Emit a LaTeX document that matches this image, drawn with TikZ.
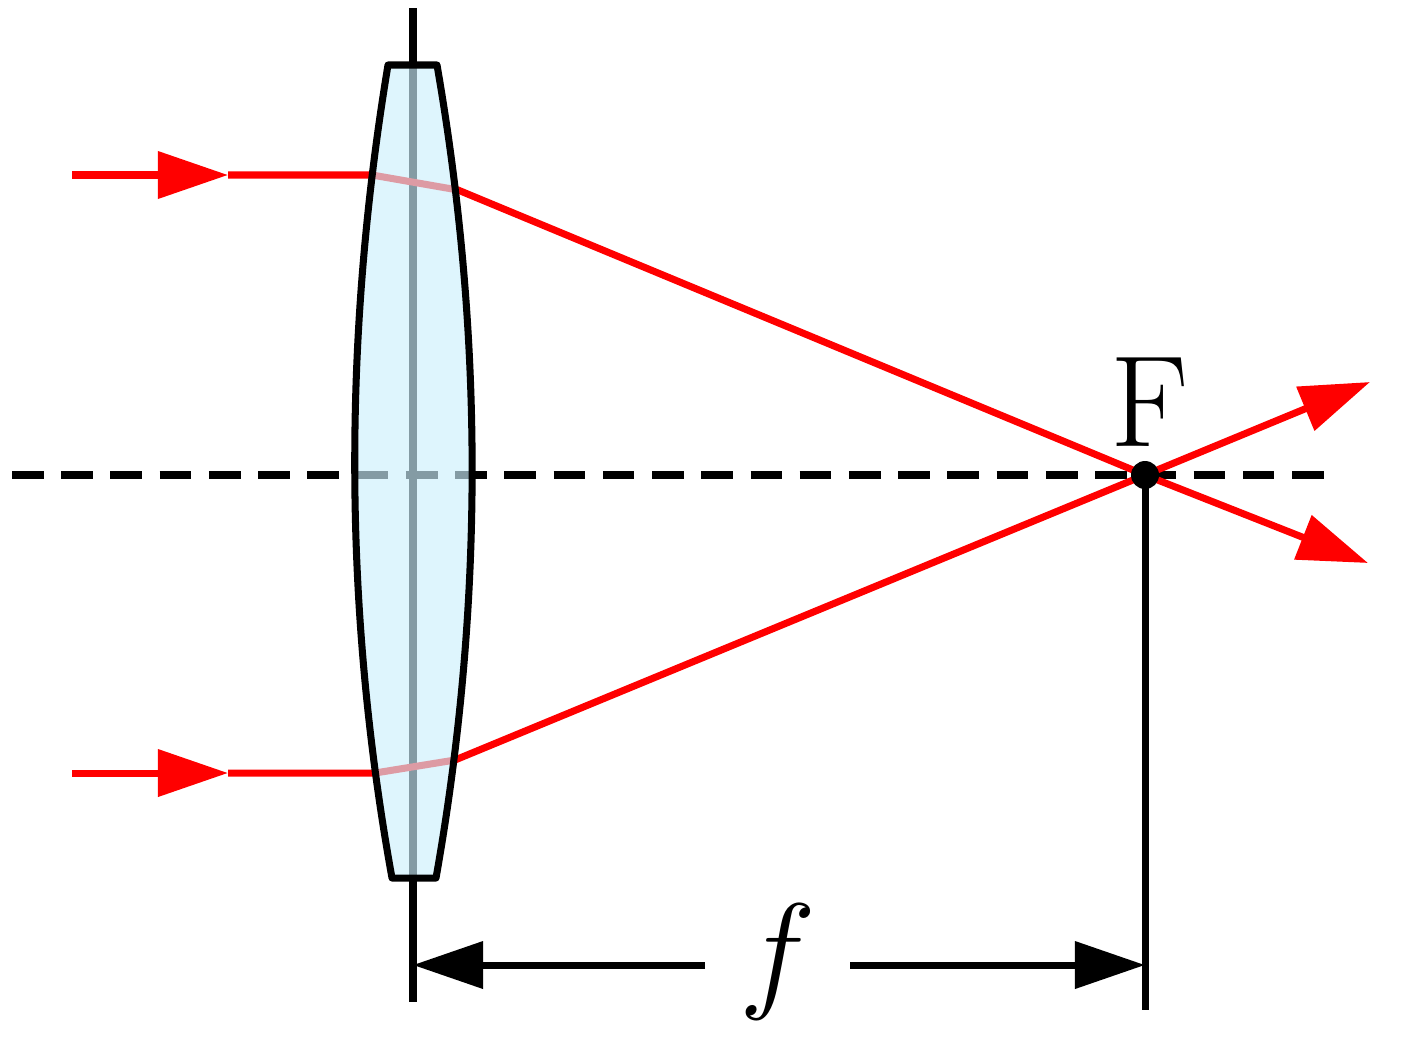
\RequirePackage{fix-cm}
\documentclass[tikz,border=0pt]{standalone}
\usetikzlibrary{arrows.meta}
\tikzset{
  ray/.style={red, line width=2pt},
  tip/.style={-{Triangle[length=7mm,width=4.6mm]}},
  blackline/.style={black, line width=2pt}
}
\begin{document}
\begin{tikzpicture}[x=0.01cm, y=-0.01cm]
    \useasboundingbox (0,0) rectangle (1410,1036);

    %% key points
    \coordinate (axisTop) at (413,8);
    \coordinate (axisBot) at (413,1002);
    \coordinate (F) at (1145,475);
    \coordinate (Fbot) at (1145,1010);

    %% optical axis and lens axis
    \draw[blackline, dash pattern=on 9pt off 5pt] (12,475) -- (1328,475);
    \draw[blackline] (axisTop) -- (axisBot);

    %% rays
    \foreach \name/\yin/\xl/\xr/\yr/\xo/\yo in {up/175/372/458/190/1370/382, low/773/375/455/760/1368/563}{
      \coordinate (\name in) at (72,\yin);
      \coordinate (\name mid) at (228,\yin);
      \coordinate (\name lensL) at (\xl,\yin);
      \coordinate (\name lensR) at (\xr,\yr);
      \coordinate (\name out) at (\xo,\yo);
      \draw[ray, tip] (\name in) -- (\name mid);
      \draw[ray] (\name mid) -- (\name lensL) -- (\name lensR) -- (F);
      \draw[ray, tip, shorten <=-1pt] (F) -- (\name out);
    }

    %% lens
    \fill[cyan!20, opacity=0.65] (388,65) -- (437,65)
      .. controls (484,336) and (484,607) .. (436,878) -- (392,878)
      .. controls (343,607) and (343,336) .. cycle;
    \draw[blackline, line join=round] (388,65) -- (437,65)
      .. controls (484,336) and (484,607) .. (436,878) -- (392,878)
      .. controls (343,607) and (343,336) .. cycle;

    %% focal point
    \fill (F) circle (14);
    \node[anchor=south west, inner sep=0pt, font=\fontsize{37}{37}\selectfont] (Flabel) at (1110,447) {F};
    \draw[blackline] (F) -- (Fbot);

    %% focal length
    \coordinate (dimL) at (413,965);
    \coordinate (dimR) at (1145,965);
    \node[font=\fontsize{37}{37}\selectfont] (flabel) at (778,962) {$f$};
    \draw[blackline, tip] (705,965) -- (dimL);
    \draw[blackline, tip] (850,965) -- (dimR);
\end{tikzpicture}
\end{document}
